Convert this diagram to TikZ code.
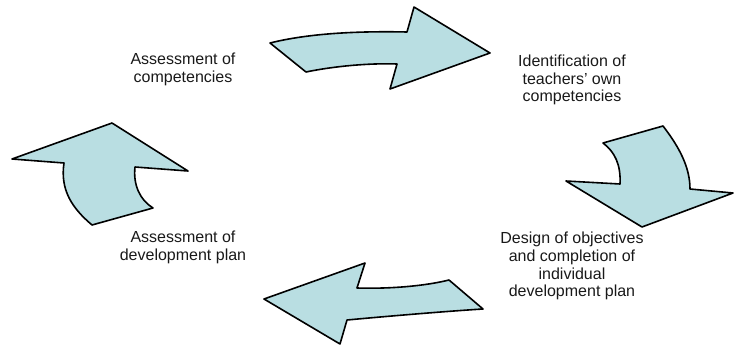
\documentclass[tikz,border=0pt]{standalone}
\usepackage{fontspec}
\setmainfont{Liberation Sans}
\definecolor{arrowfill}{RGB}{185,222,226}
\definecolor{txt}{RGB}{25,25,25}
\begin{document}
\begin{tikzpicture}[x=1pt,y=-1pt,
  cyclearrow/.style={fill=arrowfill,draw=black,line width=1.6pt,line join=round},
  label/.style={align=center,text=txt,inner sep=0pt,font=\fontsize{16}{17.8}\selectfont}]
\useasboundingbox (0,0) rectangle (734,345);
% top arrow
\draw[cyclearrow] (270,43) .. controls (310,33) and (360,31) .. (407,32)
  -- (414,7) -- (490,53) -- (390,89) -- (397,64)
  .. controls (370,63) and (335,66) .. (306,72) -- cycle;
% right arrow
\draw[cyclearrow] (603,143) -- (663,126)
  .. controls (680,148) and (690,168) .. (690,189)
  -- (733,193) -- (642,227) -- (566,181) -- (620,184)
  .. controls (621,165) and (615,152) .. cycle;
% bottom arrow
\draw[cyclearrow] (264,299) -- (365,263) -- (357,288)
  .. controls (390,289) and (425,286) .. (449,280)
  -- (483,309) .. controls (450,311) and (390,316) .. (347,320)
  -- (340,344) -- cycle;
% left arrow
\draw[cyclearrow] (112,123) -- (188,171) -- (135,167)
  .. controls (133,185) and (140,200) .. (153,208)
  -- (92,225) .. controls (72,208) and (60,190) .. (64,163)
  -- (12,159) -- cycle;
% labels
\node[label] (t1) at (183,69) {Assessment of\\competencies};
\node[label] (t2) at (572,80) {Identification of\\teachers’ own\\competencies};
\node[label] (t3) at (572,266) {Design of objectives\\and completion of\\individual\\development plan};
\node[label] (t4) at (183,247) {Assessment of\\development plan};
\end{tikzpicture}
\end{document}
